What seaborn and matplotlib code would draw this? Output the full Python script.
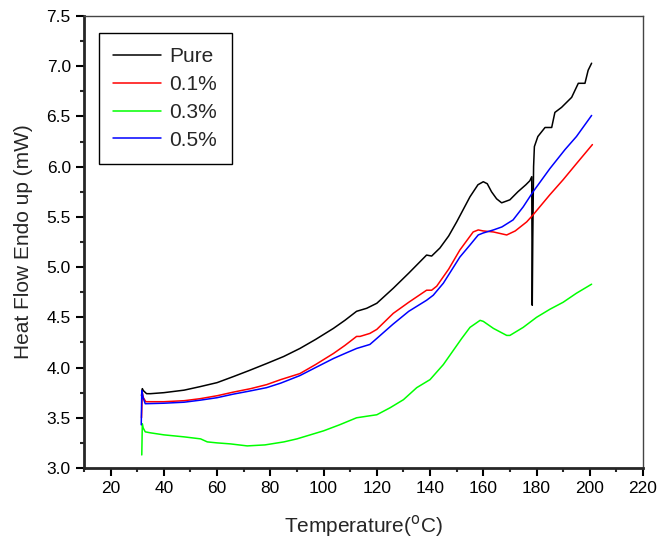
import numpy as np
import pandas as pd
import matplotlib
matplotlib.use("Agg")
import matplotlib.pyplot as plt
import seaborn as sns
from matplotlib.ticker import MultipleLocator, FormatStrFormatter

# --- data ---
pure_t = [31.6, 31.9, 32.3, 33.5, 35, 40, 47.6, 53.6, 60, 66.1, 72, 78.6, 85, 91.1,
          97, 103.7, 108, 112.4, 116.2, 120, 126.2, 132, 138.7, 140.6, 143.7, 147,
          150, 155, 158, 160, 161.5, 163.1, 165, 166.9, 170, 173, 176, 177.5,
          178.2, 178.4, 178.6, 178.9, 179.2, 180.5, 183.2, 185.7, 186.9, 189.4,
          193.2, 195.7, 198.2, 199.4, 200.7]
pure_hf = [3.72, 3.79, 3.77, 3.74, 3.74, 3.75, 3.775, 3.81, 3.85, 3.91, 3.97, 4.04,
           4.11, 4.19, 4.28, 4.39, 4.47, 4.56, 4.59, 4.64, 4.79, 4.94, 5.12, 5.11,
           5.19, 5.31, 5.45, 5.70, 5.82, 5.85, 5.83, 5.75, 5.68, 5.64, 5.67, 5.75,
           5.82, 5.86, 5.90, 4.62, 5.30, 6.00, 6.20, 6.30, 6.39, 6.39, 6.54, 6.59,
           6.69, 6.83, 6.83, 6.96, 7.03]

p01_t = [31.6, 31.9, 32.3, 33.2, 40, 47.6, 53.6, 60.1, 66, 72.6, 78.6, 83.9, 91.1,
         97, 103.7, 108, 112.4, 113.7, 117.4, 120, 126.2, 132, 138.7, 140.6, 142.5,
         147, 151.2, 156.2, 158.1, 160, 163.8, 168.8, 172, 176.3, 178.7, 185, 190,
         195, 201]
p01_hf = [3.50, 3.75, 3.70, 3.66, 3.66, 3.67, 3.69, 3.72, 3.755, 3.79, 3.83, 3.88,
          3.94, 4.03, 4.14, 4.22, 4.31, 4.31, 4.34, 4.38, 4.54, 4.65, 4.77, 4.77,
          4.81, 4.98, 5.17, 5.35, 5.37, 5.36, 5.35, 5.32, 5.36, 5.45, 5.52, 5.72,
          5.87, 6.03, 6.22]

p03_t = [31.7, 31.9, 32.2, 33, 35, 40, 47.6, 53.8, 56.3, 60, 65, 71.3, 78, 85.1,
         90, 100, 106, 112.4, 117.4, 120, 125, 130, 135, 140, 145, 151.9, 155,
         158.8, 160, 163.8, 168.8, 170, 175, 180, 185, 190, 195, 200.7]
p03_hf = [3.13, 3.44, 3.40, 3.36, 3.35, 3.33, 3.31, 3.29, 3.26, 3.25, 3.24, 3.22,
          3.23, 3.26, 3.29, 3.37, 3.43, 3.50, 3.52, 3.53, 3.60, 3.68, 3.80, 3.88,
          4.03, 4.29, 4.40, 4.47, 4.46, 4.39, 4.32, 4.32, 4.40, 4.50, 4.58, 4.65,
          4.74, 4.83]

p05_t = [31.5, 31.7, 32.2, 33, 40, 47.6, 53.6, 60, 66, 72, 78.6, 83.9, 91.1, 97,
         103.7, 108, 112.4, 117.4, 120, 126, 132, 138.7, 141.2, 145, 151.2, 155,
         158.1, 160, 163.8, 167, 171.2, 175, 178.7, 185, 190.7, 195, 200.7]
p05_hf = [3.43, 3.77, 3.70, 3.64, 3.645, 3.655, 3.675, 3.70, 3.735, 3.765, 3.80,
          3.845, 3.92, 4.00, 4.09, 4.14, 4.19, 4.23, 4.29, 4.43, 4.56, 4.67, 4.72,
          4.84, 5.10, 5.22, 5.32, 5.34, 5.37, 5.40, 5.47, 5.60, 5.75, 5.98, 6.17,
          6.30, 6.51]

labels = ["Pure", "0.1%", "0.3%", "0.5%"]
colors = ["black", "red", "#00ff00", "blue"]

frames = []
for lab, t, hf in zip(labels, [pure_t, p01_t, p03_t, p05_t],
                      [pure_hf, p01_hf, p03_hf, p05_hf]):
    frames.append(pd.DataFrame({"T": t, "HF": hf, "sample": lab}))
df = pd.concat(frames, ignore_index=True)

sns.set_style("ticks")
plt.rcParams["font.family"] = ["Liberation Sans", "DejaVu Sans"]

fig = plt.figure(figsize=(6.59, 5.44), dpi=100)
ax = fig.add_axes([0.1275, 0.1397, 0.8482, 0.8309])

sns.lineplot(data=df, x="T", y="HF", hue="sample", hue_order=labels,
             palette=dict(zip(labels, colors)), sort=False, estimator=None,
             linewidth=1.1, ax=ax)

ax.set_xlim(10, 220)
ax.set_ylim(3.0, 7.5)
ax.set_xticks(np.arange(20, 221, 20))
ax.xaxis.set_minor_locator(MultipleLocator(10))
ax.yaxis.set_major_locator(MultipleLocator(0.5))
ax.yaxis.set_minor_locator(MultipleLocator(0.25))
ax.yaxis.set_major_formatter(FormatStrFormatter("%.1f"))

ax.tick_params(which="major", direction="out", length=6, width=1.5,
               labelsize=12.5, colors="black")
ax.tick_params(which="minor", direction="out", length=3, width=1.5)
for s in ["left", "bottom"]:
    ax.spines[s].set_linewidth(2)
for s in ["top", "right"]:
    ax.spines[s].set_linewidth(1)
    ax.spines[s].set_color("#444444")

ax.set_xlabel("Temperature($^{\\rm o}$C)", fontsize=15, labelpad=12)
ax.set_ylabel("Heat Flow Endo up (mW)", fontsize=15, labelpad=10)

leg = ax.legend(loc="upper left", bbox_to_anchor=(0.026, 0.963), fontsize=15,
                frameon=True, fancybox=False, edgecolor="black",
                handlelength=2.3, borderpad=0.7, labelspacing=0.42,
                handletextpad=0.4, borderaxespad=0)
leg.get_frame().set_linewidth(1.0)
leg.get_frame().set_alpha(1)

fig.savefig("out.png", dpi=100)
